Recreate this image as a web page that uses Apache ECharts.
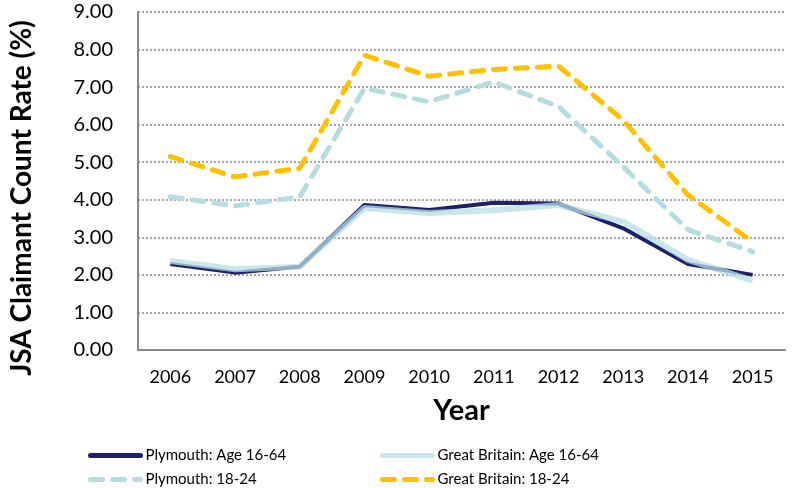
<!DOCTYPE html>
<html>
<head>
<meta charset="utf-8">
<script src="https://cdn.jsdelivr.net/npm/echarts@6/dist/echarts.min.js"></script>
<style>
    html, body { margin:0; padding:0; background:#fff; }
    #chart { width:792px; height:488px; }
</style>
</head>
<body>
<div id="chart"></div>
<script>
// data
var years = ['2006','2007','2008','2009','2010','2011','2012','2013','2014','2015'];
var plymouthAll = [2.29, 2.06, 2.22, 3.86, 3.73, 3.92, 3.90, 3.24, 2.29, 2.00];
var plymouthYoung = [4.08, 3.84, 4.08, 6.97, 6.61, 7.14, 6.48, 4.88, 3.20, 2.62];
var gbAll = [2.37, 2.15, 2.22, 3.78, 3.65, 3.72, 3.86, 3.42, 2.40, 1.85];
var gbYoung = [5.15, 4.61, 4.84, 7.85, 7.29, 7.47, 7.56, 6.12, 4.13, 2.88];

var chart = echarts.init(document.getElementById('chart'));
var fnt = 'Lato, "DejaVu Sans", sans-serif';

// legend in two columns, line-only icons
function legendCol(names, left) {
    return {
        data: names,
        orient: 'vertical',
        left: left, top: 443, height: 45,
        itemWidth: 50, itemHeight: 14, itemGap: 9,
        itemStyle: { opacity: 0 },
        lineStyle: { width: 5, cap: 'round' },
        textStyle: { fontFamily: fnt, fontSize: 15, color: '#000' }
    };
}

chart.setOption({
    animation: false,
    textStyle: { fontFamily: fnt },
    grid: { left: 133, right: 7, top: 12, bottom: 138 },
    legend: [
        legendCol(['Plymouth: Age 16-64', 'Plymouth: 18-24'], 83),
        legendCol(['Great Britain: Age 16-64', 'Great Britain: 18-24'], 375)
    ],
    xAxis: {
        type: 'category',
        data: years,
        name: 'Year',
        nameLocation: 'middle',
        nameGap: 46,
        nameTextStyle: { fontSize: 29, fontWeight: 'bold', color: '#000' },
        axisLine: { lineStyle: { color: '#888', width: 2 } },
        axisTick: { show: false },
        axisLabel: { color: '#000', fontSize: 18, margin: 18 }
    },
    yAxis: {
        type: 'value',
        min: 0, max: 9, interval: 1,
        name: 'JSA Claimant Count Rate (%)',
        nameLocation: 'middle',
        nameGap: 102,
        nameTextStyle: { fontSize: 28, fontWeight: 'bold', color: '#000', padding: [0, 34, 0, 0] },
        axisLine: { show: true, lineStyle: { color: '#888', width: 2 } },
        axisTick: { show: false },
        axisLabel: {
            color: '#000', fontSize: 20, margin: 25,
            formatter: function (v) { return v.toFixed(2); }
        },
        splitLine: { lineStyle: { color: '#888', width: 1.5, type: [2, 2] } }
    },
    series: [
        {
            name: 'Plymouth: Age 16-64',
            type: 'line',
            data: plymouthAll,
            symbol: 'none',
            z: 3,
            lineStyle: { color: '#1f1f6b', width: 4 },
            itemStyle: { color: '#1f1f6b' }
        },
        {
            name: 'Plymouth: 18-24',
            type: 'line',
            data: plymouthYoung,
            symbol: 'none',
            z: 2,
            lineStyle: { color: '#b5dce0', width: 5, type: [12, 10], cap: 'round' },
            itemStyle: { color: '#b5dce0' }
        },
        {
            name: 'Great Britain: Age 16-64',
            type: 'line',
            data: gbAll,
            symbol: 'none',
            z: 4,
            lineStyle: { color: '#b7dfe3', width: 6, opacity: 0.75 },
            itemStyle: { color: '#b7dfe3' }
        },
        {
            name: 'Great Britain: 18-24',
            type: 'line',
            data: gbYoung,
            symbol: 'none',
            z: 2,
            lineStyle: { color: '#ffc000', width: 5, type: [12, 10], cap: 'round' },
            itemStyle: { color: '#ffc000' }
        }
    ]
});
</script>
</body>
</html>
